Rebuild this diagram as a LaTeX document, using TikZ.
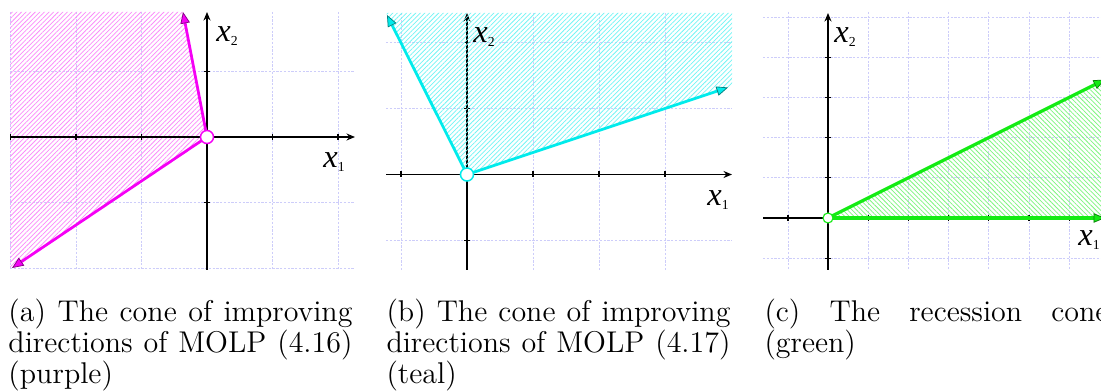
\documentclass[tikz,border=0pt]{standalone}
\usepackage{fontspec}
\newfontfamily\tnr{Liberation Serif}
\usetikzlibrary{arrows.meta,patterns.meta}
\definecolor{gridc}{RGB}{205,205,250}
\definecolor{mag}{RGB}{245,0,245}
\definecolor{cya}{RGB}{0,235,235}
\definecolor{grn}{RGB}{20,235,20}
\tolerance=9999
\hyphenpenalty=10000
\newcommand\axlab[1]{{\tnr\fontsize{13}{14}\selectfont\itshape x}\raisebox{-1.5pt}{\tnr\fontsize{5.5}{6}\selectfont #1}}
\tikzset{
 gridline/.style={draw=gridc, line width=0.3pt, dash pattern=on 0.9pt off 0.6pt},
 axis/.style={draw=black, line width=0.55pt},
 axisarrow/.style={axis, -{Stealth[length=3.4pt,width=2.8pt]}},
 tickmark/.style={draw=black, line width=0.45pt},
 ray/.style={line width=1.1pt, draw=#1, -{Triangle[length=4.6pt,width=3.8pt,fill=#1,color=#1!55!black,line width=0.3pt]}},
 origin/.style={circle, fill=white, draw=#1, line width=0.6pt, minimum size=5.2pt, inner sep=0pt},
 hatchNE/.style={pattern={Lines[angle=45,distance=1.3pt,line width=0.3pt]}, pattern color=#1},
 hatchNW/.style={pattern={Lines[angle=-45,distance=1.3pt,line width=0.3pt]}, pattern color=#1},
 lab/.style={inner sep=0pt},
 caption/.style={anchor=north west, inner sep=0pt, text width=137.6pt, align=justify,
   font=\fontsize{12}{12.3}\selectfont},
}
\begin{document}
\begin{tikzpicture}[x=0.4pt,y=-0.4pt]
\useasboundingbox (0,0) rectangle (1101,392);
% ---------- panel (a) ----------
\coordinate (Oa) at (207,137);
\coordinate (Ua) at (183,12);
\coordinate (La) at (12,268);
\foreach \gx in {10.5,76,141.5,272.5,338} \draw[gridline] (\gx,12) -- (\gx,270);
\foreach \gy in {71.5,202.5,268} \draw[gridline] (10,\gy) -- (355,\gy);
\fill[hatchNE=mag!45] (Oa) -- (Ua) -- (10,12) -- (10,268) -- (La) -- cycle;
\draw[axisarrow] (10,137) -- (355,137);
\draw[axisarrow] (207,270) -- (207,12);
\foreach \gx in {10.5,76,141.5,272.5,338} \draw[tickmark] (\gx,134) -- (\gx,140);
\foreach \gy in {71.5,202.5} \draw[tickmark] (204,\gy) -- (210,\gy);
\draw[ray=mag] (Oa) -- (Ua);
\draw[ray=mag] (Oa) -- (La);
\node[origin=mag] (oa) at (Oa) {};
\node[lab] (x2a) at (227,36) {\axlab{2}};
\node[lab] (x1a) at (334,162) {\axlab{1}};
% ---------- panel (b) ----------
\coordinate (Ob) at (467,174.5);
\coordinate (Lb) at (387,15);
\coordinate (Rb) at (728,87.5);
\foreach \gx in {401,533,599,665} \draw[gridline] (\gx,13) -- (\gx,270);
\foreach \gy in {42.5,108.5,240.5} \draw[gridline] (386,\gy) -- (732,\gy);
\draw[axisarrow] (386,174.5) -- (732,174.5);
\draw[axisarrow] (467,270) -- (467,13);
\foreach \gx in {401,533,599,665} \draw[tickmark] (\gx,171.5) -- (\gx,177.5);
\foreach \gy in {42.5,108.5,240.5} \draw[tickmark] (464,\gy) -- (470,\gy);
\fill[hatchNE=cya!55] (Ob) -- (386,13) -- (732,13) -- (732,86.2) -- cycle;
\draw[ray=cya] (Ob) -- (Lb);
\draw[ray=cya] (Ob) -- (Rb);
\node[origin=cya] (ob) at (Ob) {};
\node[lab] (x2b) at (484,37) {\axlab{2}};
\node[lab] (x1b) at (718,200) {\axlab{1}};
% ---------- panel (c) ----------
\coordinate (Oc) at (828,218);
\coordinate (Hc) at (1105,218);
\coordinate (Dc) at (1105,79.5);
\foreach \gx in {788,868.2,908.4,948.6,988.8,1029,1069.2} \draw[gridline] (\gx,12) -- (\gx,270);
\foreach \gy in {17,57.2,97.4,137.6,177.8,258.2} \draw[gridline] (763,\gy) -- (1101,\gy);
\draw[axis] (763,218) -- (1101,218);
\draw[axisarrow] (828,270) -- (828,13);
\foreach \gx in {788,868.2,908.4,948.6,988.8,1029,1069.2} \draw[tickmark] (\gx,215) -- (\gx,221);
\foreach \gy in {57.2,97.4,137.6,177.8,258.2} \draw[tickmark] (825,\gy) -- (831,\gy);
\fill[hatchNW=grn!55] (Oc) -- (Dc) -- (Hc) -- cycle;
\draw[ray=grn, line width=1.3pt] (Oc) -- (Dc);
\draw[ray=grn, line width=1.3pt] (Oc) -- (Hc);
\node[origin=grn, minimum size=4pt, line width=0.45pt] (oc) at (Oc) {};
\node[lab] (x2c) at (845,37) {\axlab{2}};
\node[lab] (x1c) at (1089,240) {\axlab{1}};
% ---------- captions ----------
\node[caption] (capa) at (8,299) {(a) The cone of improving directions of MOLP (4.16) (purple)};
\node[caption] (capb) at (386,299) {(b) The cone of improving directions of MOLP (4.17) (teal)};
\node[caption] (capc) at (764,299) {(c) The recession cone (green)};
\end{tikzpicture}
\end{document}
